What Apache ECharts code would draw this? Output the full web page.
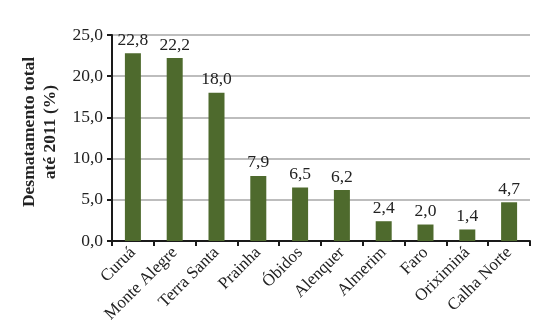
<!DOCTYPE html>
<html>
<head>
<meta charset="utf-8">
<script src="https://cdn.jsdelivr.net/npm/echarts@6/dist/echarts.min.js"></script>
<style>
  html, body { margin: 0; padding: 0; background: #fff; }
  #chart { width: 558px; height: 330px; }
</style>
</head>
<body>
<div id="chart"></div>
<script>
// Municipalities of Calha Norte and total deforestation up to 2011 (%)
const categories = ['Curuá', 'Monte Alegre', 'Terra Santa', 'Prainha', 'Óbidos',
                    'Alenquer', 'Almerim', 'Faro', 'Oriximiná', 'Calha Norte'];
const deforestation = [22.8, 22.2, 18.0, 7.9, 6.5, 6.2, 2.4, 2.0, 1.4, 4.7];
const yTicks = [0, 5, 10, 15, 20, 25];

const serif = '"Liberation Serif", "DejaVu Serif", serif';
const fmt = v => v.toFixed(1).replace('.', ',');

const chart = echarts.init(document.getElementById('chart'));
chart.setOption({
  animation: false,
  grid: { left: 112, right: 28, top: 35, bottom: 89 },
  xAxis: {
    type: 'category',
    data: categories,
    axisLine: { lineStyle: { color: '#1a1a1a', width: 2 } },
    axisTick: { show: true, alignWithLabel: false, length: 5, lineStyle: { color: '#1a1a1a', width: 2 } },
    axisLabel: {
      rotate: 45, interval: 0, margin: 9,
      fontFamily: serif, fontSize: 17, color: '#222'
    }
  },
  yAxis: {
    type: 'value',
    min: yTicks[0], max: yTicks[yTicks.length - 1], interval: 5,
    name: 'Desmatamento total\naté 2011 (%)',
    nameLocation: 'middle', nameGap: 49, nameRotate: 90,
    nameTextStyle: { fontFamily: serif, fontSize: 17.5, fontWeight: 'bold', color: '#222', lineHeight: 21, padding: [0, 0, 0, 12] },
    axisLine: { show: true, lineStyle: { color: '#1a1a1a', width: 2 } },
    axisTick: { show: true, length: 5, lineStyle: { color: '#1a1a1a', width: 2 } },
    axisLabel: { fontFamily: serif, fontSize: 17.5, color: '#222', margin: 9, formatter: v => fmt(v) },
    splitLine: { lineStyle: { color: '#bdbdbd', width: 2 } }
  },
  series: [{
    type: 'bar',
    data: deforestation,
    barWidth: 16,
    itemStyle: { color: '#4e6a2d' },
    label: {
      show: true, position: 'top', distance: 4,
      fontFamily: serif, fontSize: 17.5, color: '#222',
      formatter: p => fmt(p.value)
    }
  }]
});
</script>
</body>
</html>
